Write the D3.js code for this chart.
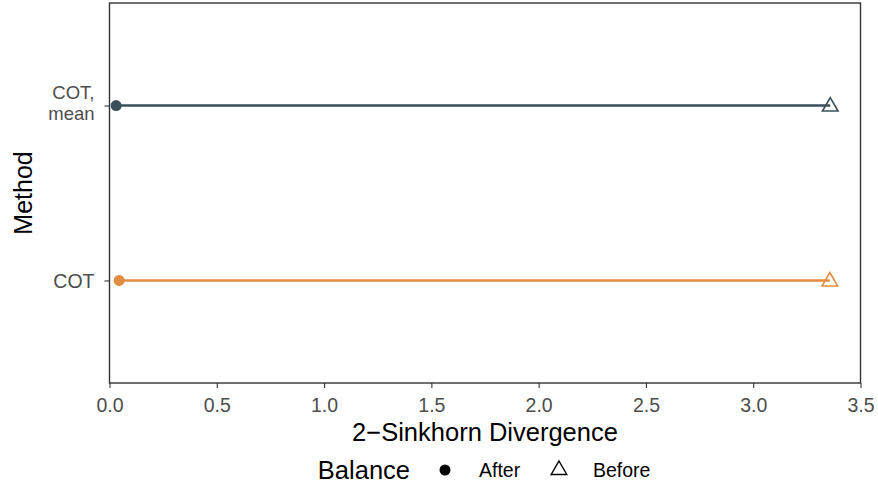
<!DOCTYPE html>
<html>
<head>
<meta charset="utf-8">
<script src="https://cdn.jsdelivr.net/npm/d3@7"></script>
<style>
  body { margin: 0; background: #fff; }
  text { font-family: "Liberation Sans", Arial, Helvetica, sans-serif; }
</style>
</head>
<body>
<svg id="chart" width="878" height="486"></svg>
<script>
// ── data ───────────────────────────────────────────────────────────────
const methods      = ["COT", "COT, mean"];          // bottom to top
const methodLines  = { "COT": ["COT"], "COT, mean": ["COT,", "mean"] };
const afterValues  = [0.045, 0.031];
const beforeValues = [3.357, 3.359];
const methodColors = ["#e38d40", "#3a4f5a"];
const xTicks       = [0, 0.5, 1, 1.5, 2, 2.5, 3, 3.5];
const balanceKeys  = ["After", "Before"];

// ── geometry ───────────────────────────────────────────────────────────
const panel = { left: 109.5, top: 3, right: 860.5, bottom: 383 };
const svg = d3.select("#chart");

const x = d3.scaleLinear().domain([0, 3.5]).range([panel.left, panel.right]);
const y = d3.scalePoint().domain(methods)
    .range([panel.bottom, panel.top]).padding(0.586);

const rows = methods.map((m, i) => ({
    method: m, after: afterValues[i], before: beforeValues[i], color: methodColors[i]
}));

// ── axes ───────────────────────────────────────────────────────────────
const xAxisG = svg.append("g")
    .attr("transform", `translate(0,${panel.bottom})`)
    .call(d3.axisBottom(x).tickValues(xTicks).tickSize(5).tickPadding(4)
        .tickFormat(d3.format(".1f")));
xAxisG.select(".domain").remove();
xAxisG.selectAll("line").attr("stroke", "#333").attr("stroke-width", 1.1);
xAxisG.selectAll("text").attr("fill", "#4d4d4d")
    .attr("dy", null).attr("y", 28.5)
    .style("font-size", "19.5px")
    .style("font-family", "Liberation Sans, Arial, sans-serif");

const yAxisG = svg.append("g")
    .attr("transform", `translate(${panel.left},0)`)
    .call(d3.axisLeft(y).tickSize(5).tickPadding(4).tickFormat(""));
yAxisG.select(".domain").remove();
yAxisG.selectAll("line").attr("stroke", "#333").attr("stroke-width", 1.1);

// multi-line y labels
methods.forEach(m => {
    const lines = methodLines[m];
    const offsets = lines.length === 1 ? [7.3] : [-7, 14];
    lines.forEach((ln, k) => {
        svg.append("text")
            .attr("text-anchor", "end")
            .attr("fill", "#4d4d4d")
            .style("font-size", lines.length === 1 ? "19.5px" : "18.5px")
            .attr("x", panel.left - 15)
            .attr("y", y(m) + offsets[k])
            .text(ln);
    });
});

// ── panel border ───────────────────────────────────────────────────────
svg.append("rect")
    .attr("x", panel.left).attr("y", panel.top)
    .attr("width", panel.right - panel.left)
    .attr("height", panel.bottom - panel.top)
    .attr("fill", "none").attr("stroke", "#333").attr("stroke-width", 1.4);

// ── marks ──────────────────────────────────────────────────────────────
const g = svg.append("g");

g.selectAll(".seg").data(rows).enter().append("line")
    .attr("x1", d => x(d.after)).attr("x2", d => x(d.before))
    .attr("y1", d => y(d.method)).attr("y2", d => y(d.method))
    .attr("stroke", d => d.color).attr("stroke-width", 2.3);

g.selectAll(".after").data(rows).enter().append("circle")
    .attr("cx", d => x(d.after)).attr("cy", d => y(d.method))
    .attr("r", 5.5).attr("fill", d => d.color);

const tri = d3.symbol().type(d3.symbolTriangle).size(105);
g.selectAll(".before").data(rows).enter().append("path")
    .attr("d", tri)
    .attr("transform", d => `translate(${x(d.before)},${y(d.method) + 1})`)
    .attr("fill", "none").attr("stroke", d => d.color).attr("stroke-width", 1.6);

// ── axis titles ────────────────────────────────────────────────────────
svg.append("text")
    .attr("x", (panel.left + panel.right) / 2).attr("y", 441)
    .attr("text-anchor", "middle").attr("fill", "#000")
    .style("font-size", "25.5px")
    .text("2\u2212Sinkhorn Divergence");

svg.append("text")
    .attr("transform", `translate(32,${(panel.top + panel.bottom) / 2}) rotate(-90)`)
    .attr("text-anchor", "middle").attr("fill", "#000")
    .style("font-size", "25px")
    .text("Method");

// ── legend ─────────────────────────────────────────────────────────────
const legend = svg.append("g").attr("transform", "translate(0,470)");
legend.append("text").attr("x", 410).attr("y", 8.5)
    .attr("text-anchor", "end")
    .style("font-size", "25.5px").attr("fill", "#000").text("Balance");
legend.append("circle").attr("cx", 445).attr("cy", 0).attr("r", 5.5).attr("fill", "#000");
legend.append("text").attr("x", 479).attr("y", 7)
    .style("font-size", "19.5px").attr("fill", "#000").text(balanceKeys[0]);
legend.append("path").attr("d", tri)
    .attr("transform", "translate(559,0)")
    .attr("fill", "none").attr("stroke", "#000").attr("stroke-width", 1.4);
legend.append("text").attr("x", 593).attr("y", 7)
    .style("font-size", "19.5px").attr("fill", "#000").text(balanceKeys[1]);
</script>
</body>
</html>
